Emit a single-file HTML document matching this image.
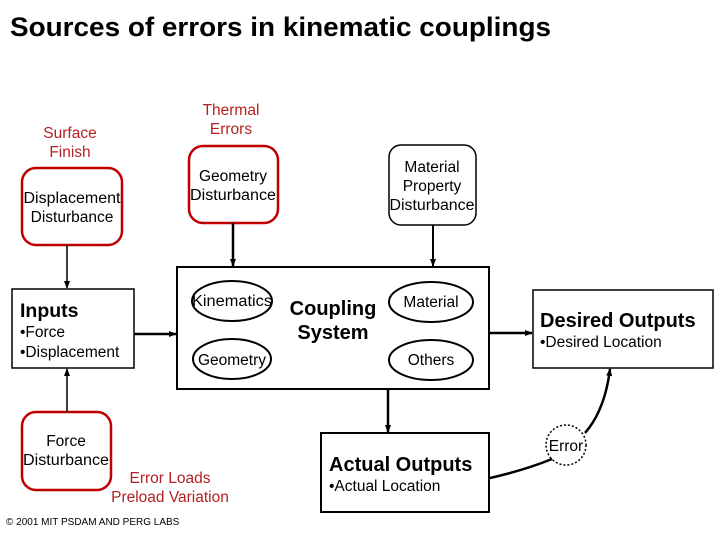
<!DOCTYPE html>
<html><head><meta charset="utf-8"><style>
body{margin:0;background:#fff}
svg text{font-family:"Liberation Sans",Arial,sans-serif}
</style></head><body>
<svg width="720" height="540" viewBox="0 0 720 540" xmlns="http://www.w3.org/2000/svg">
<defs><marker id="a" markerWidth="8" markerHeight="8" refX="7" refY="4" orient="auto" markerUnits="userSpaceOnUse"><path d="M0,1 L8,4 L0,7 z" fill="#000"/></marker></defs>
<text x="10" y="36" font-size="27" font-weight="bold" textLength="541" lengthAdjust="spacingAndGlyphs">Sources of errors in kinematic couplings</text>
<g fill="#b22222" font-size="15.5" text-anchor="middle">
<text x="70" y="138">Surface</text><text x="70" y="157">Finish</text>
<text x="231" y="115">Thermal</text><text x="231" y="134">Errors</text>
<text x="170" y="483">Error Loads</text><text x="170" y="502">Preload Variation</text>
</g>
<g fill="none" stroke="#c00000" stroke-width="2.5">
<rect x="22" y="168" width="100" height="77" rx="14"/>
<rect x="22" y="412" width="89" height="78" rx="14"/>
<rect x="189" y="146" width="89" height="77" rx="14"/>
</g>
<rect x="389" y="145" width="87" height="80" rx="12" fill="none" stroke="#000" stroke-width="1.5"/>
<g font-size="15.5" text-anchor="middle">
<text x="72" y="203" textLength="97" lengthAdjust="spacingAndGlyphs">Displacement</text><text x="72" y="222">Disturbance</text>
<text x="66" y="446">Force</text><text x="66" y="465" textLength="86" lengthAdjust="spacingAndGlyphs">Disturbance</text>
<text x="233" y="181">Geometry</text><text x="233" y="200" textLength="86" lengthAdjust="spacingAndGlyphs">Disturbance</text>
<text x="432" y="172">Material</text><text x="432" y="191">Property</text><text x="432" y="210" textLength="85" lengthAdjust="spacingAndGlyphs">Disturbance</text>
</g>
<g stroke="#000" stroke-width="2" fill="none">
<line x1="67" y1="245" x2="67" y2="288" marker-end="url(#a)" stroke-width="1.5"/>
<line x1="67" y1="412" x2="67" y2="369" marker-end="url(#a)" stroke-width="1.5"/>
<line x1="233" y1="223" x2="233" y2="266" marker-end="url(#a)" stroke-width="2.5"/>
<line x1="433" y1="225" x2="433" y2="266" marker-end="url(#a)"/>
<line x1="134" y1="334" x2="176" y2="334" marker-end="url(#a)" stroke-width="2.5"/>
<line x1="489" y1="333" x2="532" y2="333" marker-end="url(#a)" stroke-width="2.5"/>
<line x1="388" y1="389" x2="388" y2="432" marker-end="url(#a)" stroke-width="2.5"/>
<rect x="12" y="289" width="122" height="79" stroke-width="1.5"/>
<rect x="177" y="267" width="312" height="122"/>
<rect x="321" y="433" width="168" height="79"/>
<rect x="533" y="290" width="180" height="78" stroke-width="1.5"/>
<ellipse cx="232" cy="301" rx="40" ry="20"/>
<ellipse cx="232" cy="359" rx="39" ry="20"/>
<ellipse cx="431" cy="302" rx="42" ry="20"/>
<ellipse cx="431" cy="360" rx="42" ry="20"/>
<path d="M490,478 Q525,470 552,459" stroke-width="2.5"/>
<path d="M585,433 Q605,410 610,369" stroke-width="2.5" marker-end="url(#a)"/>
<circle cx="566" cy="445" r="20" stroke-width="1.5" stroke-dasharray="2,2"/>
</g>
<text x="20" y="317" font-size="19.5" font-weight="bold">Inputs</text>
<text x="20" y="337" font-size="15.5">•Force</text>
<text x="20" y="357" font-size="15.5">•Displacement</text>
<g font-size="15.5" text-anchor="middle">
<text x="232" y="306" textLength="80" lengthAdjust="spacingAndGlyphs">Kinematics</text><text x="232" y="365">Geometry</text>
<text x="431" y="307">Material</text><text x="431" y="365">Others</text>
<text x="566" y="451">Error</text>
</g>
<text x="333" y="315" font-size="20" font-weight="bold" text-anchor="middle">Coupling</text>
<text x="333" y="339" font-size="20" font-weight="bold" text-anchor="middle">System</text>
<text x="329" y="471" font-size="20" font-weight="bold">Actual Outputs</text>
<text x="329" y="491" font-size="15.5">•Actual Location</text>
<text x="540" y="327" font-size="20" font-weight="bold">Desired Outputs</text>
<text x="540" y="347" font-size="15.5">•Desired Location</text>
<text x="6" y="525" font-size="10">© 2001 MIT PSDAM AND PERG LABS</text>
</svg>
</body></html>
